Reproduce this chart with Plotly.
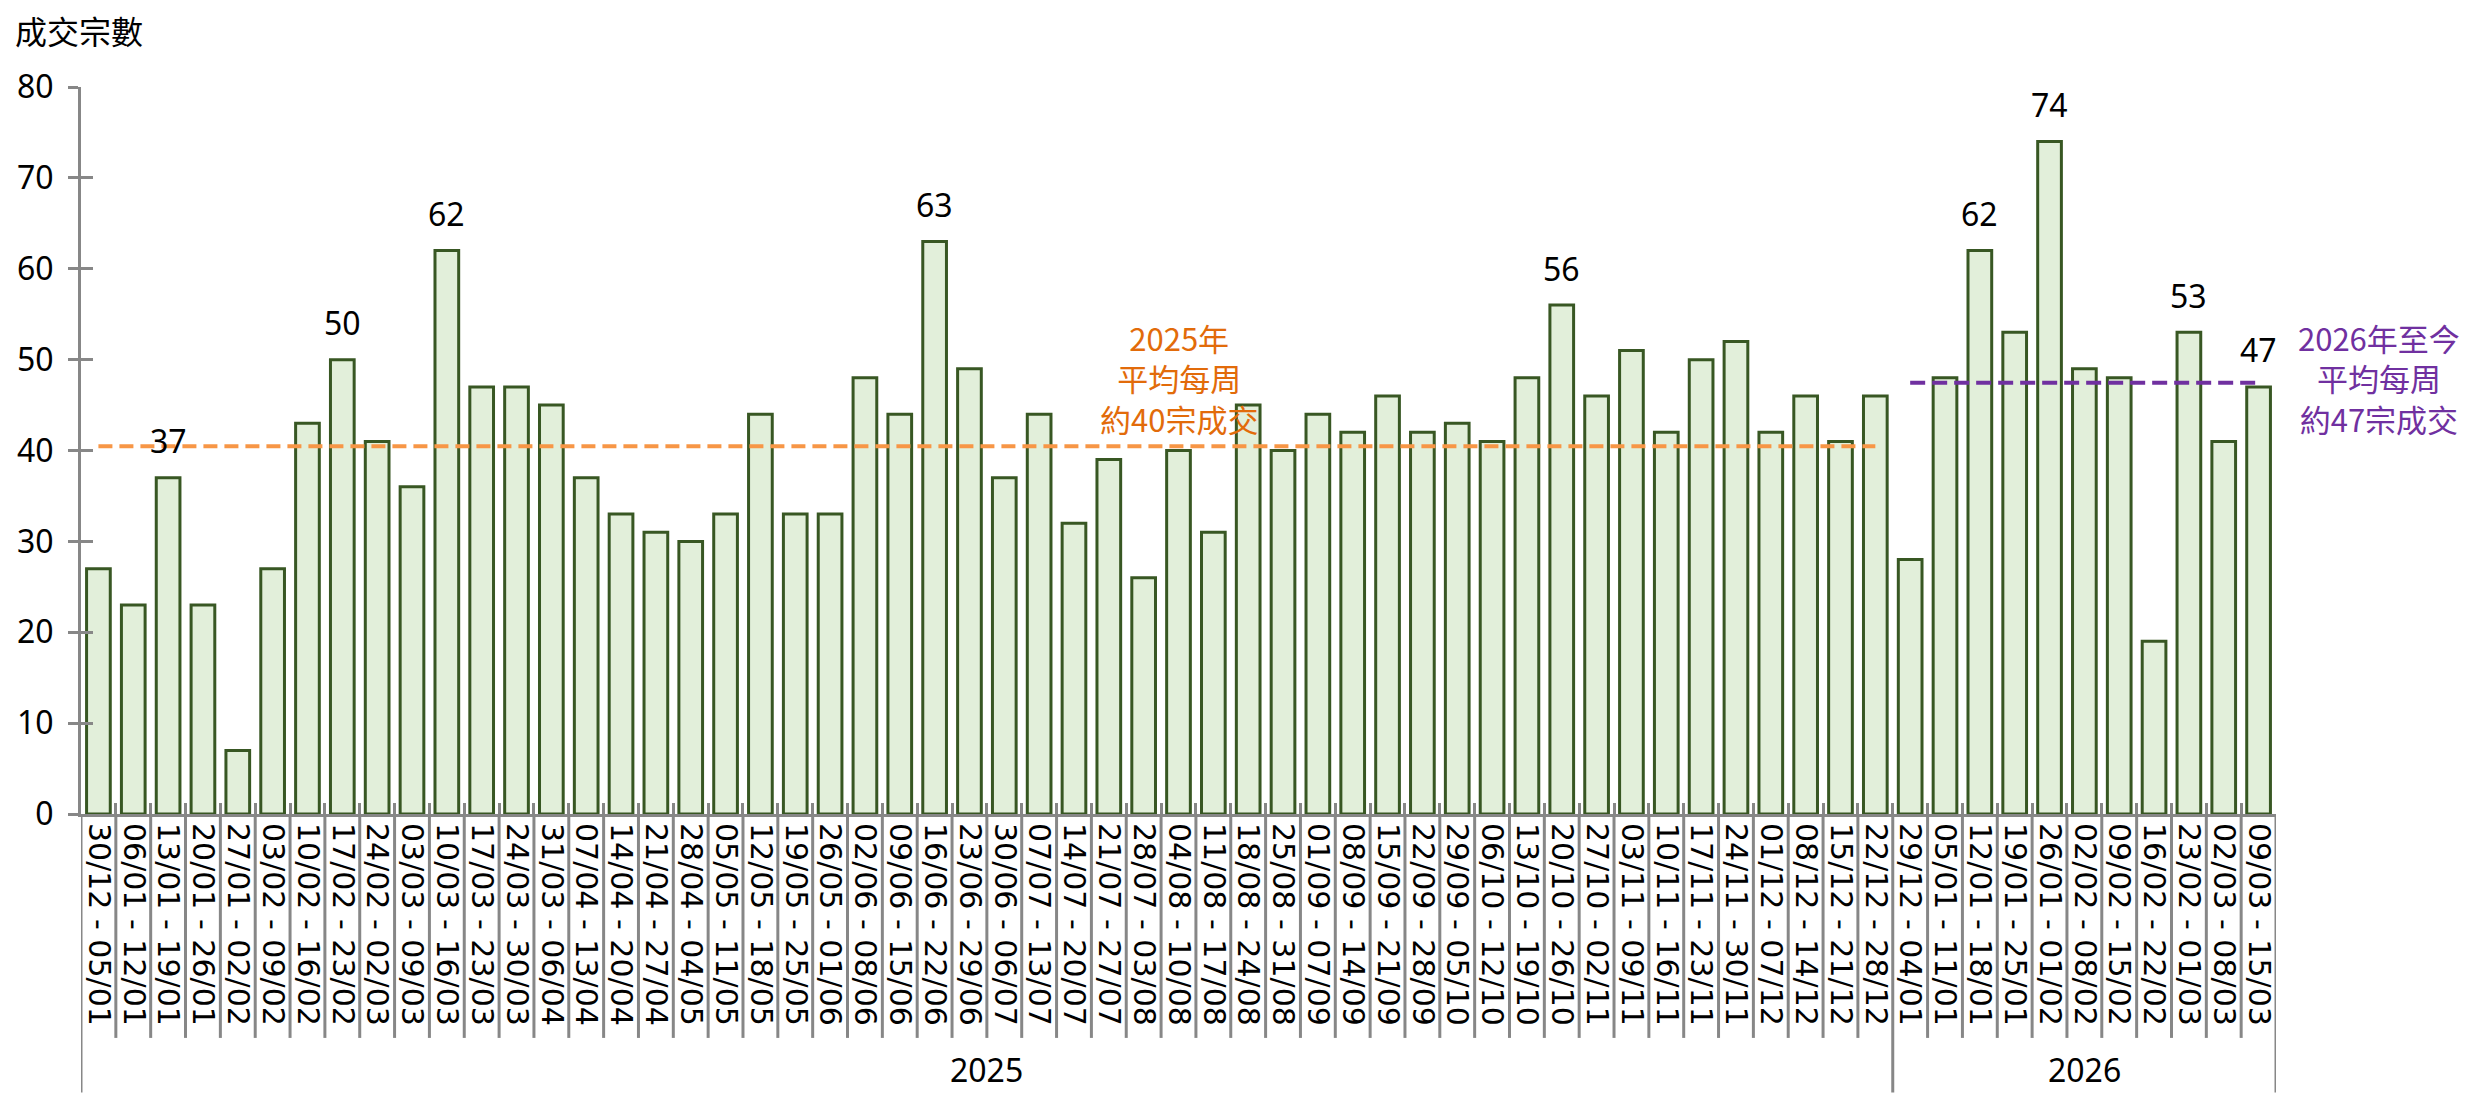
import plotly.graph_objects as go

# weekly transaction counts (成交宗數)
weeks_2025 = [
    "30/12 - 05/01", "06/01 - 12/01", "13/01 - 19/01", "20/01 - 26/01", "27/01 - 02/02",
    "03/02 - 09/02", "10/02 - 16/02", "17/02 - 23/02", "24/02 - 02/03", "03/03 - 09/03",
    "10/03 - 16/03", "17/03 - 23/03", "24/03 - 30/03", "31/03 - 06/04", "07/04 - 13/04",
    "14/04 - 20/04", "21/04 - 27/04", "28/04 - 04/05", "05/05 - 11/05", "12/05 - 18/05",
    "19/05 - 25/05", "26/05 - 01/06", "02/06 - 08/06", "09/06 - 15/06", "16/06 - 22/06",
    "23/06 - 29/06", "30/06 - 06/07", "07/07 - 13/07", "14/07 - 20/07", "21/07 - 27/07",
    "28/07 - 03/08", "04/08 - 10/08", "11/08 - 17/08", "18/08 - 24/08", "25/08 - 31/08",
    "01/09 - 07/09", "08/09 - 14/09", "15/09 - 21/09", "22/09 - 28/09", "29/09 - 05/10",
    "06/10 - 12/10", "13/10 - 19/10", "20/10 - 26/10", "27/10 - 02/11", "03/11 - 09/11",
    "10/11 - 16/11", "17/11 - 23/11", "24/11 - 30/11", "01/12 - 07/12", "08/12 - 14/12",
    "15/12 - 21/12", "22/12 - 28/12",
]
weeks_2026 = [
    "29/12 - 04/01", "05/01 - 11/01", "12/01 - 18/01", "19/01 - 25/01", "26/01 - 01/02",
    "02/02 - 08/02", "09/02 - 15/02", "16/02 - 22/02", "23/02 - 01/03", "02/03 - 08/03",
    "09/03 - 15/03",
]
deals_2025 = [27, 23, 37, 23, 7, 27, 43, 50, 41, 36,
              62, 47, 47, 45, 37, 33, 31, 30, 33, 44,
              33, 33, 48, 44, 63, 49, 37, 44, 32, 39,
              26, 40, 31, 45, 40, 44, 42, 46, 42, 43,
              41, 48, 56, 46, 51, 42, 50, 52, 42, 46,
              41, 46]
deals_2026 = [28, 48, 62, 53, 74, 49, 48, 19, 53, 41, 47]
years = ["2025", "2026"]

# bars that carry a value label
labelled_weeks = ["13/01 - 19/01", "17/02 - 23/02", "10/03 - 16/03", "16/06 - 22/06",
                  "20/10 - 26/10", "12/01 - 18/01", "26/01 - 01/02", "23/02 - 01/03",
                  "09/03 - 15/03"]
# note anchors
note_2025_week = "04/08 - 10/08"
note_2025 = "2025年<br>平均每周<br>約40宗成交"
note_2026 = "2026年至今<br>平均每周<br>約47宗成交"

weeks = weeks_2025 + weeks_2026
deals = deals_2025 + deals_2026
avg_2025 = sum(deals_2025) / len(deals_2025)
avg_2026 = sum(deals_2026) / len(deals_2026)

GRAY = "#878787"
ORANGE_LINE = "#F79646"
ORANGE_TEXT = "#E26B0A"
PURPLE = "#7030A0"
CJK = "Noto Sans CJK TC"

fig = go.Figure()

fig.add_trace(go.Bar(
    x=weeks, y=deals,
    marker=dict(color="#E2EFDA", line=dict(color="#385723", width=3)),
    hoverinfo="x+y",
))

fig.add_trace(go.Scatter(
    x=[weeks_2025[0], weeks_2025[-1]], y=[avg_2025, avg_2025],
    mode="lines", line=dict(color=ORANGE_LINE, width=4, dash="14px,7px"),
    yaxis="y2", hoverinfo="skip",
))
fig.add_trace(go.Scatter(
    x=[weeks_2026[0], weeks_2026[-1]], y=[avg_2026, avg_2026],
    mode="lines", line=dict(color=PURPLE, width=4, dash="15px,7px"),
    yaxis="y2", hoverinfo="skip",
))

# value labels
for w in labelled_weeks:
    fig.add_annotation(x=w, y=deals[weeks.index(w)], text=str(deals[weeks.index(w)]),
                       showarrow=False, yanchor="middle", yshift=37,
                       font=dict(family="Noto Sans", size=32, color="black"))

# average notes
fig.add_annotation(x=note_2025_week, y=48, text=note_2025, showarrow=False,
                   font=dict(family=CJK, size=31, color=ORANGE_TEXT), align="center")
fig.add_annotation(xref="paper", x=1.047, xanchor="center", y=48, text=note_2026,
                   showarrow=False, align="center",
                   font=dict(family=CJK, size=31, color=PURPLE))

# axis title
fig.add_annotation(xref="paper", yref="paper", x=-0.031, y=1.078, xanchor="left",
                   yanchor="middle", text="成交宗數", showarrow=False,
                   font=dict(family=CJK, size=32, color="black"))

# category dividers below the axis, longer ones between years
bounds = [len(weeks_2025), len(weeks)]
for i in range(len(weeks) + 1):
    long_line = i == 0 or i in bounds
    fig.add_shape(type="line", xref="x", yref="paper",
                  x0=i - 0.5, x1=i - 0.5, y0=0, y1=-0.383 if long_line else -0.308,
                  line=dict(color=GRAY, width=3))

# year labels
starts = [0, len(weeks_2025)]
for yr, s, e in zip(years, starts, bounds):
    fig.add_annotation(x=(s + e - 1) / 2, y=-0.352, yref="paper", text=yr,
                       showarrow=False, yanchor="middle",
                       font=dict(family="Noto Sans", size=32, color="black"))

fig.update_layout(
    width=2474, height=1112,
    margin=dict(l=73, r=206, t=79, b=306),
    plot_bgcolor="white", paper_bgcolor="white",
    showlegend=False,
    bargap=0.32,
    xaxis=dict(
        type="category", range=[-0.5, len(weeks) - 0.5], dtick=1, automargin=False,
        tickangle=90, tickfont=dict(family="DejaVu Sans", size=30, color="black"),
        ticks="inside", tickson="boundaries", ticklen=11, tickwidth=3, tickcolor=GRAY,
        showline=True, linecolor=GRAY, linewidth=3, showgrid=False,
    ),
    yaxis=dict(
        range=[0, 80], dtick=10, ticks="outside", ticklen=10, tickwidth=3,
        tickcolor=GRAY, showline=True, linecolor=GRAY, linewidth=3, automargin=False,
        showgrid=False, zeroline=False, ticklabelstandoff=8,
        tickfont=dict(family="Noto Sans", size=32, color="black"),
    ),
    yaxis2=dict(
        overlaying="y", side="left", range=[0, 80], dtick=10, ticks="inside",
        ticklen=12, tickwidth=3, tickcolor=GRAY, showticklabels=False,
        showline=False, showgrid=False, zeroline=False, automargin=False,
    ),
)

fig.write_html("out.html")
